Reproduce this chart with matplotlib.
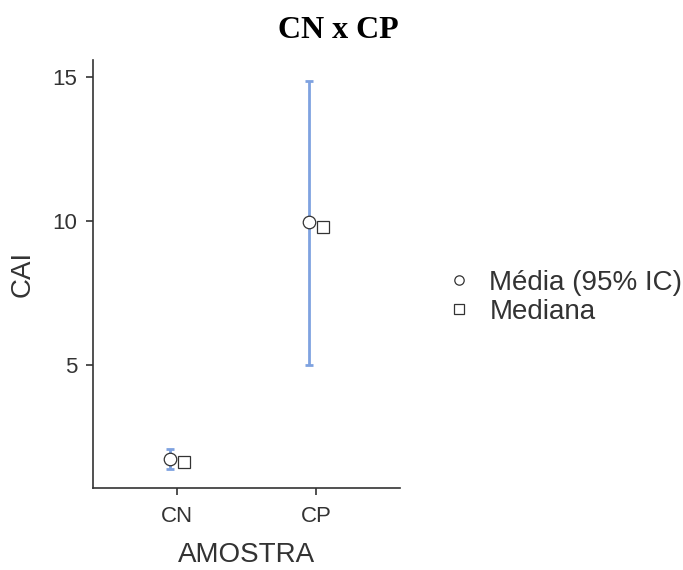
import matplotlib.pyplot as plt
import numpy as np

# dados
amostras = ["CN", "CP"]
media = [1.74, 9.95]
ic_inf = [1.39, 4.99]
ic_sup = [2.08, 14.87]
mediana = [1.64, 9.80]

fig = plt.figure(figsize=(6.83, 5.70), dpi=100)
ax = fig.add_axes([0.136, 0.144, 0.45, 0.751])

x = np.arange(1, len(amostras) + 1)
desl = 0.05
cor_ic = "#7fa2e0"

media_arr = np.array(media)
err = [media_arr - np.array(ic_inf), np.array(ic_sup) - media_arr]
ax.errorbar(x - desl, media, yerr=err, fmt="none", ecolor=cor_ic,
            elinewidth=2, capsize=3, capthick=2, zorder=2)
ax.plot(x - desl, media, "o", ms=9, mfc="white", mec="#333333", mew=0.9,
        ls="none", zorder=3, label="Média (95% IC)")
ax.plot(x + desl, mediana, "s", ms=9, mfc="white", mec="#333333", mew=0.9,
        ls="none", zorder=3, label="Mediana")

ax.set_xlim(0.4, 2.6)
ax.set_ylim(0.73, 15.6)
ax.set_xticks(x)
ax.set_xticklabels(amostras)
ax.set_yticks([5, 10, 15])

for s in ["top", "right"]:
    ax.spines[s].set_visible(False)
for s in ["left", "bottom"]:
    ax.spines[s].set_linewidth(1.2)
    ax.spines[s].set_color("#333333")
ax.tick_params(axis="both", length=5, width=1.2, color="#333333",
               labelsize=16, labelcolor="#333333")
ax.tick_params(axis="x", pad=8)
ax.tick_params(axis="y", pad=6)
for t in ax.get_xticklabels() + ax.get_yticklabels():
    t.set_fontfamily("Liberation Sans")

ax.set_xlabel("AMOSTRA", fontsize=20, color="#333333",
              fontfamily="Liberation Sans", labelpad=11)
ax.set_ylabel("CAI", fontsize=20, color="#333333",
              fontfamily="Liberation Sans", labelpad=12)

fig.text(0.495, 0.947, "CN x CP", ha="center", va="center", fontsize=23,
         fontweight="bold", fontfamily="Liberation Serif")

leg = fig.legend(loc="center left", bbox_to_anchor=(0.615, 0.478), frameon=False,
                 prop={"family": "Liberation Sans", "size": 20},
                 handletextpad=0.6, labelspacing=0.1, markerscale=0.75,
                 handlelength=1.0)
for t in leg.get_texts():
    t.set_color("#333333")

fig.savefig("out.png", dpi=100)
